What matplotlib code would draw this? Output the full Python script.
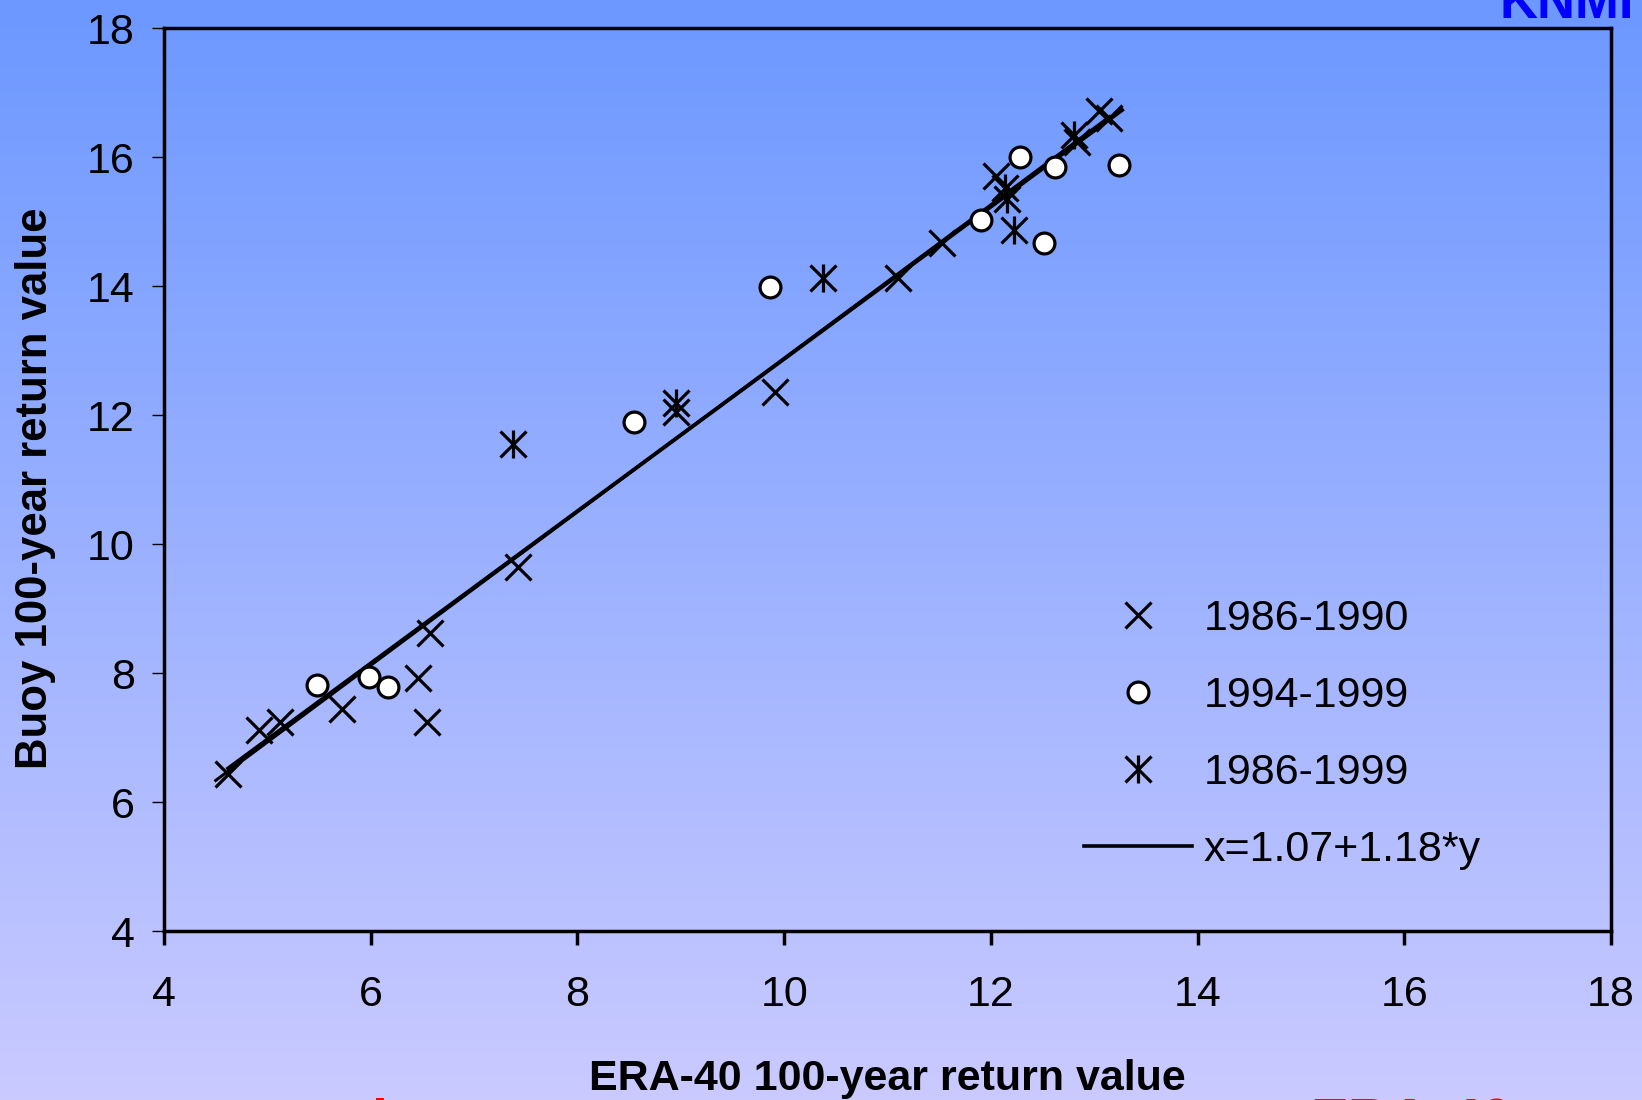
import matplotlib.pyplot as plt
import numpy as np
from matplotlib.lines import Line2D
from matplotlib.legend_handler import HandlerTuple

# ERA-40 vs buoy 100-year return values
x_8690 = [4.62, 4.92, 5.12, 5.72, 6.46, 6.54, 6.57, 7.42, 8.95, 9.91,
          11.10, 11.53, 12.05, 12.83, 13.05, 13.14]
y_8690 = [6.43, 7.12, 7.24, 7.44, 7.92, 7.24, 8.62, 9.65, 12.05, 12.35,
          14.12, 14.67, 15.71, 16.23, 16.72, 16.60]

x_9499 = [5.48, 5.98, 6.17, 8.55, 9.86, 11.90, 12.28, 12.62, 12.51, 13.24]
y_9499 = [7.82, 7.94, 7.78, 11.89, 13.99, 15.03, 16.00, 15.84, 14.67, 15.87]

x_8699 = [7.38, 8.95, 10.38, 12.14, 12.16, 12.22, 12.80]
y_8699 = [11.55, 12.18, 14.13, 15.52, 15.35, 14.87, 16.34]

# fitted lines (intercept, slope) and x range
fit_a = [1.07, 1.18]
fit_b = [0.98, 1.19]
fit_xrange = [4.62, 13.27]

labels = ["1986-1990", "1994-1999", "1986-1999", "x=1.07+1.18*y"]
ticks = [4, 6, 8, 10, 12, 14, 16, 18]

plt.rcParams["font.family"] = ["Liberation Sans", "DejaVu Sans"]

fig = plt.figure(figsize=(16.42, 11), dpi=100)

# slide background gradient
bg = fig.add_axes([0, 0, 1, 1], zorder=-10)
top = np.array([108, 152, 255]) / 255
bot = np.array([202, 202, 255]) / 255
t = np.linspace(0, 1, 256)[:, None]
grad = top[None, :] * (1 - t) + bot[None, :] * t
bg.imshow(grad[:, None, :], aspect="auto", extent=[0, 1, 0, 1])
bg.axis("off")

ax = fig.add_axes([0.0999, 0.1536, 0.8812, 0.8209])
ax.set_facecolor("none")

xs = np.array(fit_xrange)
ax.plot(xs, fit_a[0] + fit_a[1] * xs, color="black", lw=2.8, zorder=2)
ax.plot(xs - 0.12, fit_b[0] + fit_b[1] * (xs - 0.12), color="black", lw=2.2, zorder=2)

ms = 19
mew = 2.3
ax.plot(x_8690, y_8690, ls="none", marker="x", ms=ms, mew=mew, color="black", zorder=3)
ax.plot(x_9499, y_9499, ls="none", marker="o", ms=15, mew=2.3,
        mfc="white", mec="black", zorder=4)
ax.plot(x_8699, y_8699, ls="none", marker="x", ms=ms, mew=mew, color="black", zorder=3)
ax.plot(x_8699, y_8699, ls="none", marker="|", ms=ms * 1.05, mew=mew, color="black", zorder=3)

ax.set_xlim(4, 18)
ax.set_ylim(4, 18)
ax.set_xticks(ticks)
ax.set_yticks(ticks)
ax.tick_params(labelsize=31)
ax.tick_params(axis="x", width=2.5, length=10, direction="out", pad=22)
ax.tick_params(axis="y", width=1, length=9, direction="out", pad=12)
for s in ax.spines.values():
    s.set_linewidth(2.5)

ax.set_xlabel("ERA-40 100-year return value", fontsize=31, fontweight="bold", labelpad=31)
ax.set_ylabel("Buoy 100-year return value", fontsize=31.5, fontweight="bold", labelpad=22)
ax.yaxis.label.set_y(0.49)

h1 = Line2D([], [], ls="none", marker="x", ms=ms, mew=mew, color="black")
h2 = Line2D([], [], ls="none", marker="o", ms=15, mew=2.3, mfc="white", mec="black")
h3a = Line2D([], [], ls="none", marker="x", ms=ms, mew=mew, color="black")
h3b = Line2D([], [], ls="none", marker="|", ms=ms * 1.05, mew=mew, color="black")
h4 = Line2D([], [], color="black", lw=2.6)
ax.legend([h1, h2, (h3a, h3b), h4], labels, handler_map={tuple: HandlerTuple(ndivide=1)},
          loc="upper left", bbox_to_anchor=(0.636, 0.368), frameon=False, fontsize=31,
          handlelength=2.5, handletextpad=0.28, labelspacing=0.86,
          borderpad=0, borderaxespad=0)

# cut-off slide texts
fig.text(0.995, 1 - 18 / 1100, "KNMI", color="#0000ff", fontsize=38, fontweight="bold",
         ha="right", va="baseline")
fig.text(1310 / 1642, 1 - 1098 / 1100, "ERA-40", color="#ff0000", fontsize=41,
         fontweight="bold", ha="left", va="top")
fig.text(372 / 1642, 1 - 1098 / 1100, "l", color="#ff0000", fontsize=41,
         fontweight="bold", ha="left", va="top")

fig.savefig("out.png", dpi=100)
